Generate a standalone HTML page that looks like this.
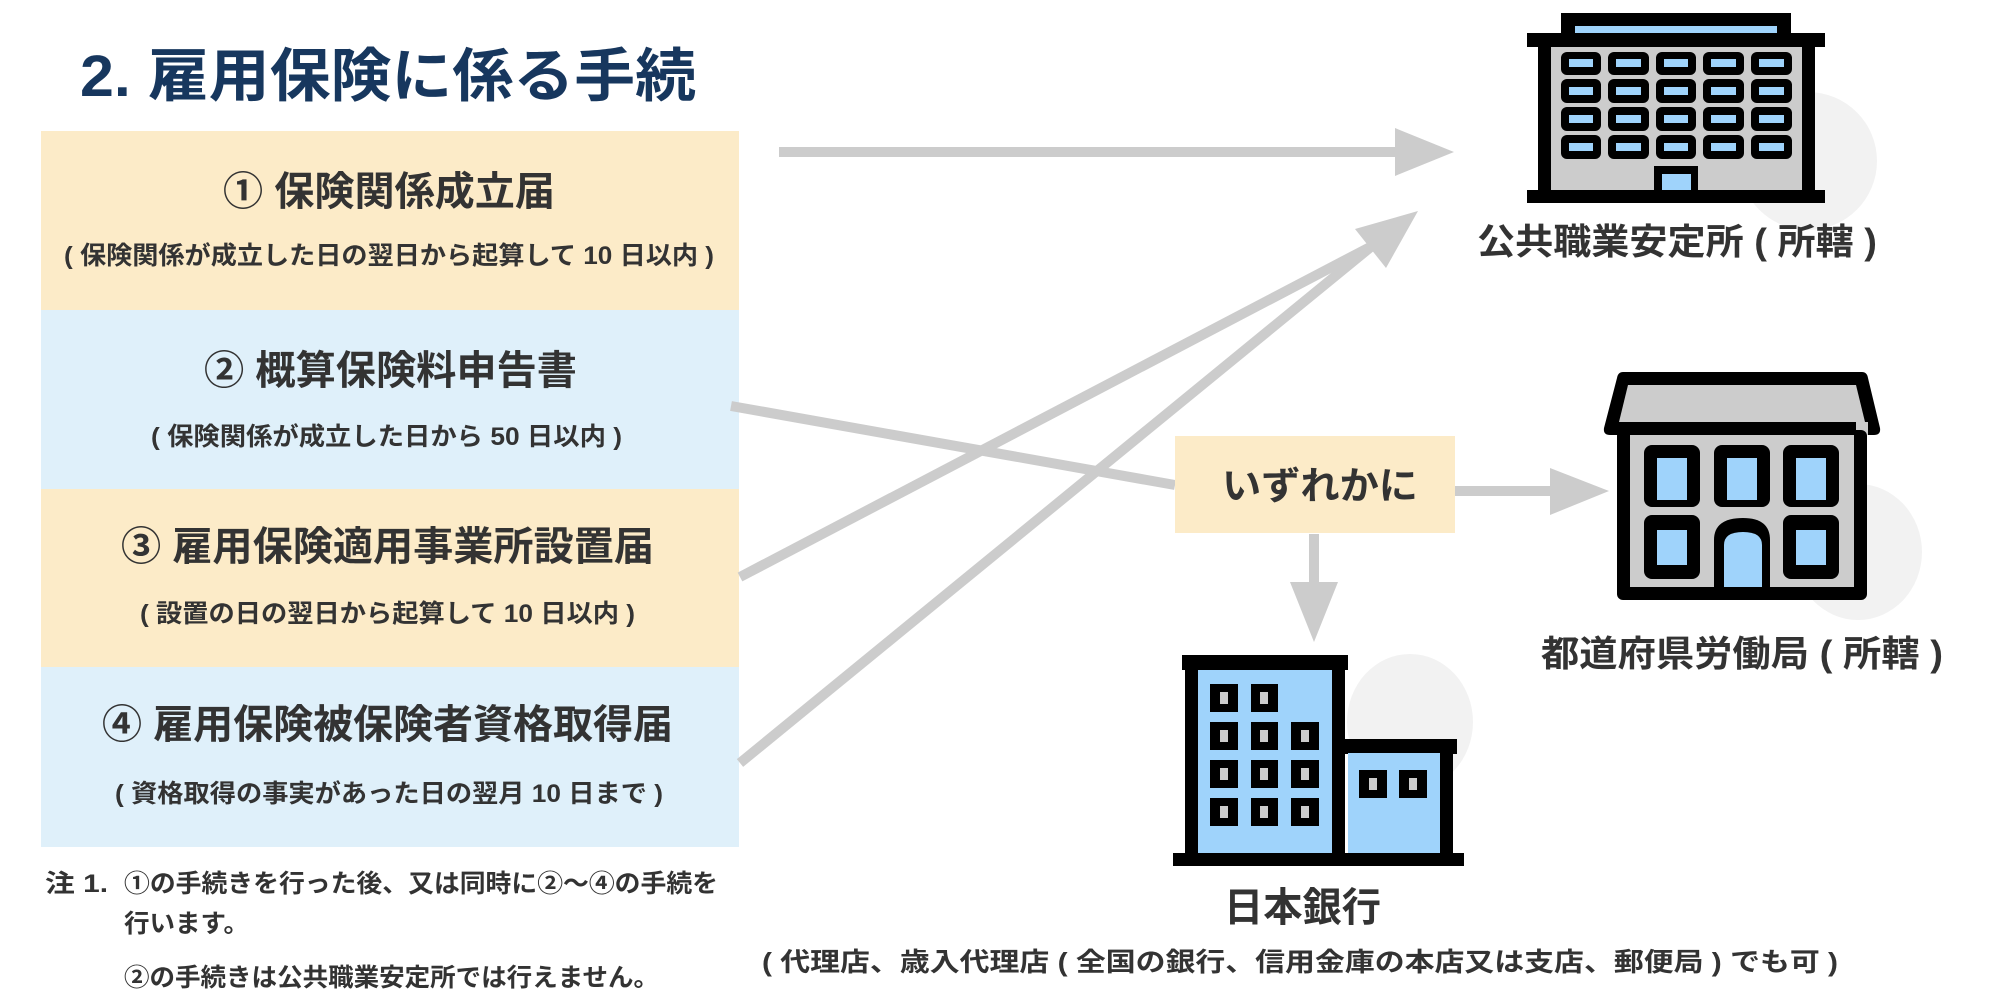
<!DOCTYPE html>
<html><head><meta charset="utf-8"><style>
html,body{margin:0;padding:0;background:#fff}
svg{display:block}
text{font-family:"Liberation Sans","Noto Sans CJK JP",sans-serif;font-weight:bold;fill:#333}
</style></head><body>
<svg width="2000" height="1000" viewBox="0 0 2000 1000" xmlns="http://www.w3.org/2000/svg">
<!-- title -->
<text x="80" y="96" font-size="58" fill="#17375e" style="fill:#17375e" textLength="616" lengthAdjust="spacingAndGlyphs">2. 雇用保険に係る手続</text>

<!-- boxes -->
<rect x="41" y="131" width="698" height="179" fill="#fcebc8"/>
<rect x="41" y="310" width="698" height="179" fill="#dff0fa"/>
<rect x="41" y="489" width="698" height="178" fill="#fcebc8"/>
<rect x="41" y="667" width="698" height="180" fill="#dff0fa"/>

<text x="223" y="205" font-size="40" textLength="332" lengthAdjust="spacingAndGlyphs">① 保険関係成立届</text>
<text x="64" y="264" font-size="25" textLength="650" lengthAdjust="spacingAndGlyphs">( 保険関係が成立した日の翌日から起算して 10 日以内 )</text>
<text x="204" y="384" font-size="40" textLength="373" lengthAdjust="spacingAndGlyphs">② 概算保険料申告書</text>
<text x="151" y="445" font-size="25" textLength="471" lengthAdjust="spacingAndGlyphs">( 保険関係が成立した日から 50 日以内 )</text>
<text x="121" y="560" font-size="40" textLength="533" lengthAdjust="spacingAndGlyphs">③ 雇用保険適用事業所設置届</text>
<text x="140" y="622" font-size="25" textLength="495" lengthAdjust="spacingAndGlyphs">( 設置の日の翌日から起算して 10 日以内 )</text>
<text x="102" y="738" font-size="40" textLength="571" lengthAdjust="spacingAndGlyphs">④ 雇用保険被保険者資格取得届</text>
<text x="115" y="802" font-size="25" textLength="548" lengthAdjust="spacingAndGlyphs">( 資格取得の事実があった日の翌月 10 日まで )</text>

<!-- notes -->
<text x="45" y="892" font-size="25" textLength="63" lengthAdjust="spacingAndGlyphs">注 1.</text>
<text x="124" y="892" font-size="25" textLength="594" lengthAdjust="spacingAndGlyphs">①の手続きを行った後、又は同時に②〜④の手続を</text>
<text x="124" y="932" font-size="25" textLength="125" lengthAdjust="spacingAndGlyphs">行います。</text>
<text x="124" y="986" font-size="25" textLength="535" lengthAdjust="spacingAndGlyphs">②の手続きは公共職業安定所では行えません。</text>

<!-- arrows -->
<g stroke="#cccccc" stroke-width="10" fill="none">
<line x1="779" y1="152" x2="1400" y2="152"/>
<line x1="731" y1="406" x2="1175" y2="485"/>
<line x1="740" y1="577" x2="1372" y2="246"/>
<line x1="740" y1="763" x2="1372" y2="246"/>
<line x1="1455" y1="491" x2="1555" y2="491"/>
<line x1="1314" y1="534" x2="1314" y2="588"/>
</g>
<g fill="#cccccc">
<polygon points="1454,152 1395,128 1395,176"/>
<polygon points="1418,211 1355,229 1386,268"/>
<polygon points="1609,491 1550,468 1550,515"/>
<polygon points="1314,642 1290,582 1338,582"/>
</g>

<!-- いずれかに box -->
<rect x="1175" y="436" width="280" height="97" fill="#fcebc8"/>
<text x="1222" y="499" font-size="38" textLength="196" lengthAdjust="spacingAndGlyphs">いずれかに</text>

<!-- building 1 shadow -->
<ellipse cx="1808" cy="161" rx="69" ry="69" fill="#f2f2f2"/>
<!-- building 1 -->
<rect x="1561" y="13" width="230" height="22" fill="#000"/>
<rect x="1575" y="26" width="202" height="7" fill="#9fd3fb"/>
<rect x="1527" y="33" width="298" height="14" fill="#000"/>
<rect x="1538" y="45" width="277" height="148" fill="#000"/>
<rect x="1551" y="47" width="251" height="143" fill="#cccccc"/>
<g fill="#000">
<rect x="1561" y="52" width="40" height="23" rx="6"/><rect x="1608" y="52" width="41" height="23" rx="6"/><rect x="1656" y="52" width="40" height="23" rx="6"/><rect x="1703" y="52" width="41" height="23" rx="6"/><rect x="1751" y="52" width="41" height="23" rx="6"/>
<rect x="1561" y="79" width="40" height="24" rx="6"/><rect x="1608" y="79" width="41" height="24" rx="6"/><rect x="1656" y="79" width="40" height="24" rx="6"/><rect x="1703" y="79" width="41" height="24" rx="6"/><rect x="1751" y="79" width="41" height="24" rx="6"/>
<rect x="1561" y="107" width="40" height="24" rx="6"/><rect x="1608" y="107" width="41" height="24" rx="6"/><rect x="1656" y="107" width="40" height="24" rx="6"/><rect x="1703" y="107" width="41" height="24" rx="6"/><rect x="1751" y="107" width="41" height="24" rx="6"/>
<rect x="1561" y="135" width="40" height="24" rx="6"/><rect x="1608" y="135" width="41" height="24" rx="6"/><rect x="1656" y="135" width="40" height="24" rx="6"/><rect x="1703" y="135" width="41" height="24" rx="6"/><rect x="1751" y="135" width="41" height="24" rx="6"/>
</g>
<g fill="#9fd3fb">
<rect x="1569" y="59" width="24" height="8"/><rect x="1616" y="59" width="25" height="8"/><rect x="1664" y="59" width="24" height="8"/><rect x="1711" y="59" width="25" height="8"/><rect x="1759" y="59" width="25" height="8"/>
<rect x="1569" y="87" width="24" height="8"/><rect x="1616" y="87" width="25" height="8"/><rect x="1664" y="87" width="24" height="8"/><rect x="1711" y="87" width="25" height="8"/><rect x="1759" y="87" width="25" height="8"/>
<rect x="1569" y="115" width="24" height="8"/><rect x="1616" y="115" width="25" height="8"/><rect x="1664" y="115" width="24" height="8"/><rect x="1711" y="115" width="25" height="8"/><rect x="1759" y="115" width="25" height="8"/>
<rect x="1569" y="143" width="24" height="8"/><rect x="1616" y="143" width="25" height="8"/><rect x="1664" y="143" width="24" height="8"/><rect x="1711" y="143" width="25" height="8"/><rect x="1759" y="143" width="25" height="8"/>
</g>
<rect x="1654" y="166" width="44" height="26" fill="#000"/>
<rect x="1662" y="174" width="29" height="16" fill="#9fd3fb"/>
<rect x="1527" y="190" width="298" height="13" fill="#000"/>
<text x="1477" y="254" font-size="36" textLength="400" lengthAdjust="spacingAndGlyphs">公共職業安定所 ( 所轄 )</text>

<!-- building 2 shadow -->
<ellipse cx="1858" cy="552" rx="64" ry="68" fill="#f2f2f2"/>
<!-- building 2 -->
<path d="M1623,372 L1862,372 Q1867,372 1868,378 L1880,428 Q1881,435 1874,435 L1610,435 Q1603,435 1604,428 L1617,378 Q1618,372 1623,372 Z" fill="#000"/>
<path d="M1628,385 L1856,385 L1865,422 L1619,422 Z" fill="#cccccc"/>
<rect x="1856" y="422" width="12" height="13" fill="#cccccc"/>
<rect x="1617" y="430" width="250" height="170" rx="6" fill="#000"/>
<rect x="1630" y="435" width="224" height="152" fill="#cccccc"/>
<g fill="#000">
<rect x="1644" y="445" width="56" height="62" rx="8"/><rect x="1714" y="445" width="56" height="62" rx="8"/><rect x="1783" y="445" width="56" height="62" rx="8"/>
<rect x="1644" y="515" width="56" height="64" rx="8"/><rect x="1783" y="515" width="56" height="64" rx="8"/>
<path d="M1714,587 L1714,540 Q1714,518 1743,518 Q1770,518 1770,540 L1770,587 Z"/>
</g>
<g fill="#9fd3fb">
<rect x="1657" y="458" width="30" height="42"/><rect x="1727" y="458" width="30" height="42"/><rect x="1796" y="458" width="30" height="42"/>
<rect x="1657" y="530" width="30" height="35"/><rect x="1796" y="530" width="30" height="35"/>
<path d="M1724,587 L1724,545 Q1724,532 1743,532 Q1762,532 1762,545 L1762,587 Z"/>
</g>
<text x="1541" y="666" font-size="36" textLength="402" lengthAdjust="spacingAndGlyphs">都道府県労働局 ( 所轄 )</text>

<!-- building 3 shadow -->
<ellipse cx="1410" cy="722" rx="63" ry="68" fill="#f2f2f2"/>
<!-- building 3 -->
<rect x="1182" y="655" width="166" height="15" fill="#000"/>
<rect x="1185" y="668" width="160" height="190" fill="#000"/>
<rect x="1198" y="670" width="134" height="183" fill="#9fd3fb"/>
<rect x="1344" y="739" width="113" height="15" fill="#000"/>
<rect x="1348" y="752" width="105" height="106" fill="#000"/>
<rect x="1348" y="753" width="92" height="100" fill="#9fd3fb"/>
<rect x="1332" y="670" width="12" height="185" fill="#000"/>
<rect x="1173" y="853" width="291" height="13" fill="#000"/>
<g fill="#000">
<rect x="1210" y="684" width="28" height="28"/><rect x="1251" y="684" width="27" height="28"/>
<rect x="1210" y="722" width="28" height="28"/><rect x="1251" y="722" width="27" height="28"/><rect x="1291" y="722" width="28" height="28"/>
<rect x="1210" y="760" width="28" height="28"/><rect x="1251" y="760" width="27" height="28"/><rect x="1291" y="760" width="28" height="28"/>
<rect x="1210" y="798" width="28" height="28"/><rect x="1251" y="798" width="27" height="28"/><rect x="1291" y="798" width="28" height="28"/>
<rect x="1359" y="770" width="28" height="28"/><rect x="1399" y="770" width="28" height="28"/>
</g>
<g fill="#cccccc">
<rect x="1220" y="692" width="8" height="12"/><rect x="1260" y="692" width="8" height="12"/>
<rect x="1220" y="730" width="8" height="12"/><rect x="1260" y="730" width="8" height="12"/><rect x="1301" y="730" width="8" height="12"/>
<rect x="1220" y="768" width="8" height="12"/><rect x="1260" y="768" width="8" height="12"/><rect x="1301" y="768" width="8" height="12"/>
<rect x="1220" y="806" width="8" height="12"/><rect x="1260" y="806" width="8" height="12"/><rect x="1301" y="806" width="8" height="12"/>
<rect x="1369" y="778" width="8" height="12"/><rect x="1409" y="778" width="8" height="12"/>
</g>
<text x="1224" y="921" font-size="40" textLength="157" lengthAdjust="spacingAndGlyphs">日本銀行</text>
<text x="762" y="971" font-size="26" textLength="1076" lengthAdjust="spacingAndGlyphs">( 代理店、歳入代理店 ( 全国の銀行、信用金庫の本店又は支店、郵便局 ) でも可 )</text>
</svg>
</body></html>
